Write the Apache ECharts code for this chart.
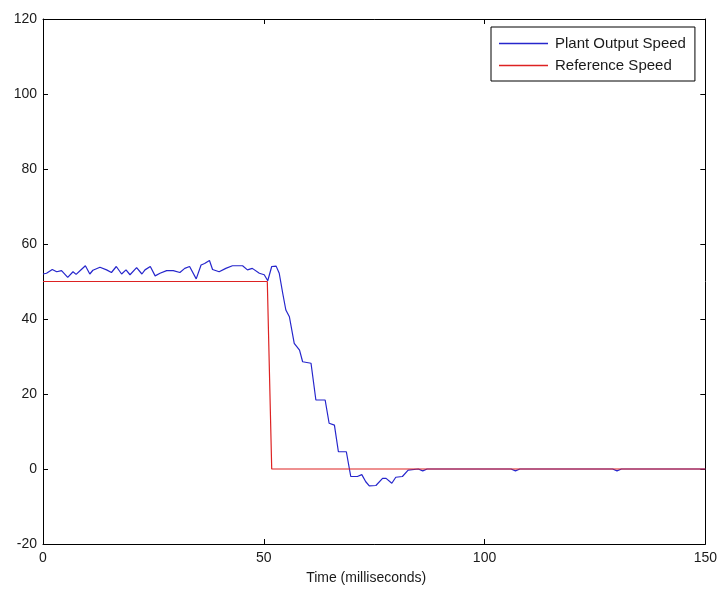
<!DOCTYPE html>
<html>
<head>
<meta charset="utf-8">
<title>Plant Output Speed vs Reference Speed</title>
<script src="https://cdn.jsdelivr.net/npm/echarts@6/dist/echarts.min.js"></script>
<style>
  html, body { margin: 0; padding: 0; background: #ffffff; }
  #chart { width: 720px; height: 591px; }
</style>
</head>
<body>
<div id="chart"></div>
<script>
// Measured plant speed (time in ms, speed)
const plantTime = [0, 0.8, 2.1, 3.1, 4.2, 5.6, 6.8, 7.5, 8.5, 9.6, 10.6, 11.3, 12.9, 14.4, 15.5, 16.6,
  17.8, 18.8, 19.7, 21.2, 22.4, 23.1, 24.3, 25.4, 26.5, 28, 29.5, 31, 32.1, 33.2, 34.7, 35.8, 36.6,
  37.7, 38.4, 39.9, 41.4, 42.9, 45.2, 46.3, 47.4, 49, 50.1, 50.9, 51.8, 52.8, 53.5, 54.3, 55.0, 55.8,
  56.9, 58.1, 58.8, 60.7, 61.8, 63.9, 64.8, 66, 66.9, 68.7, 69.7, 71.2, 72.2, 73.1, 73.9, 75.4, 76.9,
  77.7, 79, 79.9, 81.4, 82.7, 85, 86, 87, 106, 107, 108, 129, 130, 131, 150];
const plantSpeed = [52, 52.2, 53.2, 52.6, 52.9, 51.1, 52.6, 51.9, 53, 54.2, 52, 53, 53.8, 53.1, 52.4, 54,
  52, 53.1, 51.8, 53.7, 52, 53.1, 54, 51.5, 52.2, 52.9, 52.9, 52.4, 53.5, 54, 50.7, 54.4, 54.8,
  55.6, 53.2, 52.6, 53.5, 54.2, 54.2, 53.1, 53.5, 52.2, 51.8, 50.2, 54, 54.1, 52.2, 46.8, 42.4, 40.6,
  33.5, 31.7, 28.6, 28.2, 18.4, 18.4, 12.2, 11.7, 4.6, 4.6, -2, -2, -1.5, -3.4, -4.5, -4.4, -2.5,
  -2.5, -3.8, -2.2, -2, -0.3, 0, -0.5, 0, 0, -0.5, 0, 0, -0.5, 0, 0];

// Commanded reference speed
const refTime = [0, 50.8, 51.8, 150];
const refSpeed = [50, 50, 0, 0];

// Axis ranges / ticks
const xTicks = { min: 0, max: 150, interval: 50 };
const yTicks = { min: -20, max: 120, interval: 20 };

const seriesNames = ['Plant Output Speed', 'Reference Speed'];
const xLabel = 'Time (milliseconds)';

const zip = (a, b) => a.map((v, i) => [v, b[i]]);

const font = 'Arial, "Liberation Sans", Helvetica, sans-serif';
const ink = '#1a1a1a';
const blue = '#2626cc';
const red = '#dd2222';

// Box-style axis: line plus inward ticks, labels only on bottom/left
function boxAxis(base, pos, showLabels) {
  return {
    type: 'value',
    position: pos,
    min: base.min,
    max: base.max,
    interval: base.interval,
    splitLine: { show: false },
    axisLine: { show: true, onZero: false, lineStyle: { color: '#000', width: 1 } },
    axisTick: { show: true, inside: true, length: 5, lineStyle: { color: '#000', width: 1 } },
    axisLabel: { show: showLabels, color: ink, fontSize: 14, fontFamily: font }
  };
}

const xBottom = boxAxis(xTicks, 'bottom', true);
xBottom.axisLabel.margin = 7;
xBottom.name = xLabel;
xBottom.nameLocation = 'middle';
xBottom.nameGap = 27;
xBottom.nameTextStyle = { color: ink, fontSize: 14, fontFamily: font, padding: [0, 16, 0, 0] };
const xTop = boxAxis(xTicks, 'top', false);

const yLeft = boxAxis(yTicks, 'left', true);
yLeft.axisLabel.margin = 6;
const yRight = boxAxis(yTicks, 'right', false);

const chart = echarts.init(document.getElementById('chart'), null, { renderer: 'canvas' });
chart.setOption({
  backgroundColor: '#ffffff',
  animation: false,
  grid: { left: 43, right: 13, top: 19, bottom: 47, containLabel: false },
  xAxis: [xBottom, xTop],
  yAxis: [yLeft, yRight],
  legend: {
    orient: 'vertical',
    left: 491,
    top: 27,
    data: [
      { name: seriesNames[0], icon: 'rect', itemStyle: { color: blue } },
      { name: seriesNames[1], icon: 'rect', itemStyle: { color: red } }
    ],
    itemWidth: 49,
    itemHeight: 1.3,
    itemGap: 5,
    padding: [8, 9, 7, 8],
    backgroundColor: '#ffffff',
    borderColor: '#000',
    borderWidth: 1,
    textStyle: { color: ink, fontSize: 15, fontFamily: font, lineHeight: 17, padding: [0, 0, 0, 2] }
  },
  series: [
    {
      name: seriesNames[0],
      type: 'line',
      data: zip(plantTime, plantSpeed),
      symbol: 'none',
      showSymbol: false,
      lineStyle: { color: blue, width: 1.2 },
      itemStyle: { color: blue },
      z: 2
    },
    {
      name: seriesNames[1],
      type: 'line',
      data: zip(refTime, refSpeed),
      symbol: 'none',
      showSymbol: false,
      lineStyle: { color: red, width: 1.2 },
      itemStyle: { color: red },
      z: 3
    }
  ]
});
</script>
</body>
</html>
